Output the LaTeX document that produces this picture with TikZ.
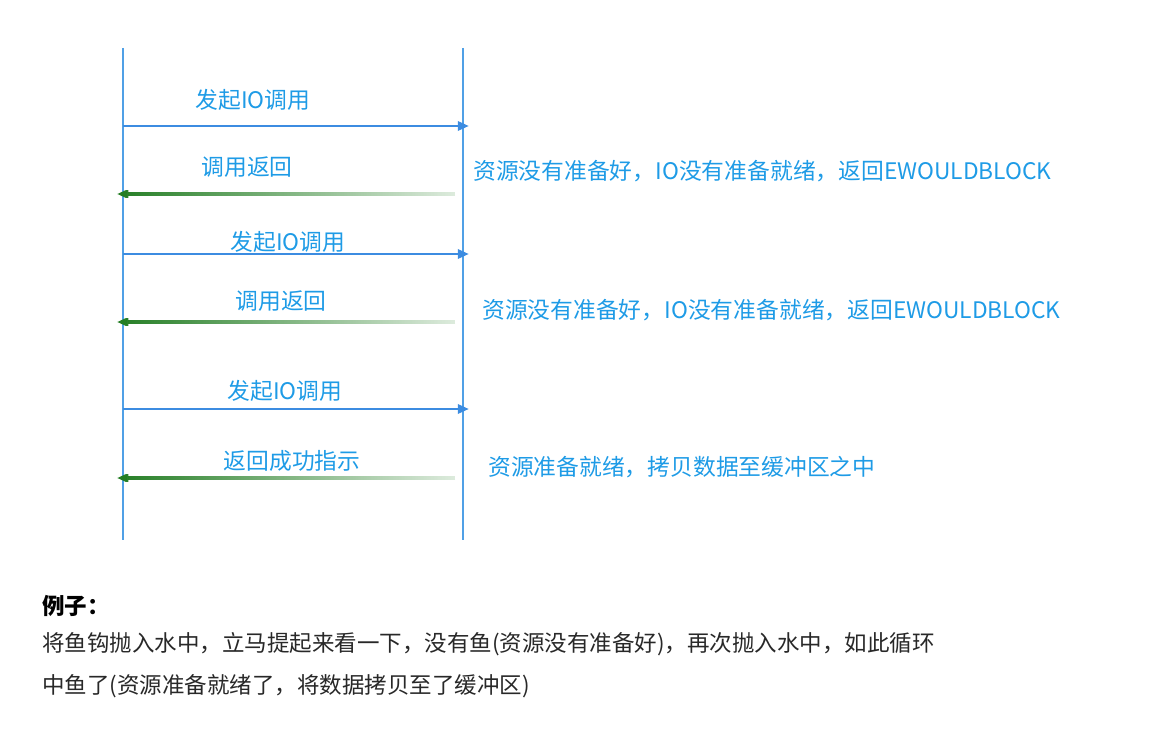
\documentclass[tikz,border=0pt]{standalone}
\usepackage{fontspec}
\setmainfont{Noto Sans CJK SC}
\usetikzlibrary{arrows.meta,fadings}

\definecolor{lifeblue}{RGB}{80,160,230}
\definecolor{callblue}{RGB}{60,140,225}
\definecolor{textblue}{RGB}{30,155,230}
\definecolor{retgreen}{RGB}{35,125,35}
\definecolor{bodygray}{RGB}{40,40,40}

\tikzfading[name=retfade, left color=transparent!0, middle color=transparent!5, right color=transparent!85]

\begin{document}
\begin{tikzpicture}[x=0.025cm,y=-0.025cm,
	lifeline/.style={lifeblue, line width=0.9pt},
	call/.style={callblue, line width=2pt, -{Triangle[length=8pt,width=6.5pt]}},
	ret/.style={retgreen, line width=2.4pt, -{Triangle[length=8pt,width=6.5pt]}, path fading=retfade},
	msg/.style={textblue, font=\fontsize{16.2pt}{19pt}\selectfont, inner sep=0pt},
	note/.style={msg, anchor=west},
	body/.style={bodygray, font=\fontsize{16pt}{19pt}\selectfont, inner sep=0pt, anchor=west}]
	\useasboundingbox (0,0) rectangle (1168,735);
	% \draw[style=help lines,step=50] (0,0) grid (1168,735);

	% Prozess und Kernel
	\coordinate (appTop) at (123,48);
	\coordinate (appBot) at (123,540);
	\coordinate (kerTop) at (463,48);
	\coordinate (kerBot) at (463,540);
	\draw[lifeline] (appTop) -- (appBot);
	\draw[lifeline] (kerTop) -- (kerBot);

	% erster Versuch
	\coordinate (callA1) at (123,126); \coordinate (callB1) at (469,126);
	\draw[call] (callA1) -- (callB1);
	\node[msg] (call1) at (253,100) {发起IO调用};
	\coordinate (retB1) at (455,194); \coordinate (retA1) at (117,194);
	\draw[ret] (retB1) -- (retA1);
	\node[msg] (ret1) at (247,167) {调用返回};
	\node[note] (note1) at (473,171) {资源没有准备好，IO没有准备就绪，返回EWOULDBLOCK};

	% zweiter Versuch
	\coordinate (callA2) at (123,254); \coordinate (callB2) at (469,254);
	\draw[call] (callA2) -- (callB2);
	\node[msg] (call2) at (288,242) {发起IO调用};
	\coordinate (retB2) at (455,322); \coordinate (retA2) at (117,322);
	\draw[ret] (retB2) -- (retA2);
	\node[msg] (ret2) at (281,301) {调用返回};
	\node[note] (note2) at (482,310) {资源没有准备好，IO没有准备就绪，返回EWOULDBLOCK};

	% dritter Versuch
	\coordinate (callA3) at (123,409); \coordinate (callB3) at (469,409);
	\draw[call] (callA3) -- (callB3);
	\node[msg] (call3) at (285,391) {发起IO调用};
	\coordinate (retB3) at (455,478); \coordinate (retA3) at (117,478);
	\draw[ret] (retB3) -- (retA3);
	\node[msg] (ret3) at (292,461) {返回成功指示};
	\node[note] (note3) at (488,467) {资源准备就绪，拷贝数据至缓冲区之中};

	% Beispiel
	\node[body, font=\fontsize{16pt}{19pt}\selectfont\bfseries, black] (exTitle) at (42,606) {例子：};
	\node[body] (exLine1) at (42,644) {将鱼钩抛入水中，立马提起来看一下，没有鱼(资源没有准备好)，再次抛入水中，如此循环};
	\node[body] (exLine2) at (42,686) {中鱼了(资源准备就绪了，将数据拷贝至了缓冲区)};
\end{tikzpicture}
\end{document}
